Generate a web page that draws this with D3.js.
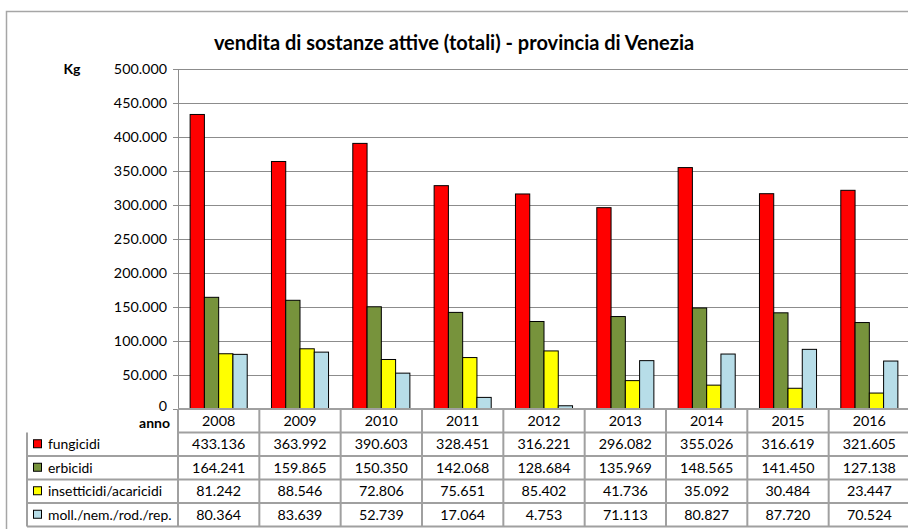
<!DOCTYPE html>
<html>
<head>
<meta charset="utf-8">
<script src="https://cdn.jsdelivr.net/npm/d3@7"></script>
<style>
  body { margin: 0; background: #fff; }
  svg { display: block; font-family: Lato, "Open Sans", sans-serif; }
</style>
</head>
<body>
<div id="chart"></div>
<script>
// dati
const years = ["2008", "2009", "2010", "2011", "2012", "2013", "2014", "2015", "2016"];
const seriesNames = ["fungicidi", "erbicidi", "insetticidi/acaricidi", "moll./nem./rod./rep."];
const fungicidi = [433136, 363992, 390603, 328451, 316221, 296082, 355026, 316619, 321605];
const erbicidi = [164241, 159865, 150350, 142068, 128684, 135969, 148565, 141450, 127138];
const insetticidi = [81242, 88546, 72806, 75651, 85402, 41736, 35092, 30484, 23447];
const molluschicidi = [80364, 83639, 52739, 17064, 4753, 71113, 80827, 87720, 70524];
const yTicks = [0, 50000, 100000, 150000, 200000, 250000, 300000, 350000, 400000, 450000, 500000];
const colors = ["#ff0000", "#77933c", "#ffff00", "#b7dde8"];

const seriesValues = [fungicidi, erbicidi, insetticidi, molluschicidi];

const W = 908, H = 529;
const margin = {top: 69, left: 178};
const plotRight = 910;
const plotBottom = 409;
const rowH = 23.5;
const tableLeft = 27;

const fmt = v => v === 0 ? "0" : d3.format(",")(v).replace(/,/g, ".");

const svg = d3.select("#chart")
    .append("svg")
    .attr("width", W)
    .attr("height", H);

// cornice esterna
svg.append("rect")
    .attr("x", 6.5).attr("y", 11.5)
    .attr("width", W).attr("height", H)
    .attr("fill", "none")
    .attr("stroke", "#a6a6a6")
    .attr("stroke-width", 1.5);

// titolo
svg.append("text")
    .attr("x", 454)
    .attr("y", 50)
    .attr("text-anchor", "middle")
    .style("font-size", "20px")
    .style("font-weight", "bold")
    .text("vendita di sostanze attive (totali) - provincia di Venezia");

svg.append("text")
    .attr("x", 72)
    .attr("y", 74)
    .attr("text-anchor", "middle")
    .style("font-size", "14px")
    .style("font-weight", "bold")
    .text("Kg");

// scale
const x = d3.scaleBand()
    .domain(years)
    .range([margin.left, plotRight]);

const y = d3.scaleLinear()
    .domain([0, 500000])
    .range([plotBottom, margin.top]);

const xs = d3.scaleBand()
    .domain(d3.range(seriesNames.length))
    .range([0, x.bandwidth()])
    .paddingOuter(0.85);

// griglia
svg.append("g")
    .selectAll("line")
    .data(yTicks)
    .enter()
    .append("line")
    .attr("x1", margin.left)
    .attr("x2", plotRight)
    .attr("y1", d => Math.round(y(d)) + 0.5)
    .attr("y2", d => Math.round(y(d)) + 0.5)
    .attr("stroke", "#8c8c8c")
    .attr("stroke-width", 1);

// asse y
const yAxis = svg.append("g")
    .attr("transform", `translate(${margin.left},0)`)
    .call(d3.axisLeft(y).tickValues(yTicks).tickFormat(fmt).tickSize(5).tickPadding(6));
yAxis.select(".domain").attr("stroke", "#8c8c8c");
yAxis.selectAll(".tick line").attr("stroke", "#8c8c8c");
yAxis.selectAll("text")
    .style("font-size", "14.3px")
    .style("font-family", "Lato, sans-serif")
    .attr("fill", "#000");
// lo "0" sta un po' più in alto, sopra "anno"
yAxis.selectAll(".tick text")
    .filter(d => d === 0)
    .attr("dy", "0.1em");

// barre
seriesValues.forEach((vals, si) => {
    svg.append("g")
        .selectAll("rect")
        .data(vals)
        .enter()
        .append("rect")
        .attr("x", (d, i) => x(years[i]) + xs(si))
        .attr("y", d => y(d))
        .attr("width", xs.bandwidth())
        .attr("height", d => plotBottom - y(d))
        .attr("fill", colors[si])
        .attr("stroke", "#000")
        .attr("stroke-width", 1);
});

// tabella dati
const table = svg.append("g");
const lineColor = "#a0a0a0";

// righe orizzontali
const hLines = [plotBottom, plotBottom + rowH];
seriesNames.forEach((s, i) => hLines.push(plotBottom + rowH * (i + 2)));
table.selectAll(".hline")
    .data(hLines)
    .enter()
    .append("line")
    .attr("x1", (d, i) => i < 2 ? margin.left : tableLeft)
    .attr("x2", plotRight)
    .attr("y1", d => d)
    .attr("y2", d => d)
    .attr("stroke", lineColor)
    .attr("stroke-width", 2);

// linee verticali
table.selectAll(".vline")
    .data(years)
    .enter()
    .append("line")
    .attr("x1", d => x(d))
    .attr("x2", d => x(d))
    .attr("y1", plotBottom)
    .attr("y2", plotBottom + rowH * 5)
    .attr("stroke", lineColor)
    .attr("stroke-width", 2);

table.append("line")
    .attr("x1", tableLeft).attr("x2", tableLeft)
    .attr("y1", plotBottom + rowH)
    .attr("y2", plotBottom + rowH * 5)
    .attr("stroke", lineColor)
    .attr("stroke-width", 2);

// intestazione anni
table.selectAll(".year")
    .data(years)
    .enter()
    .append("text")
    .attr("x", d => x(d) + x.bandwidth() / 2)
    .attr("y", plotBottom + rowH / 2)
    .attr("dy", "0.38em")
    .attr("text-anchor", "middle")
    .style("font-size", "14.3px")
    .text(d => d);

svg.append("text")
    .attr("x", 170)
    .attr("y", plotBottom + rowH / 2 + 2)
    .attr("dy", "0.38em")
    .attr("text-anchor", "end")
    .style("font-size", "14px")
    .style("font-weight", "bold")
    .text("anno");

// righe delle serie
seriesNames.forEach((name, si) => {
    const cy = plotBottom + rowH * (si + 1) + rowH / 2;
    table.append("rect")
        .attr("x", 33.5)
        .attr("y", cy - 4.5)
        .attr("width", 8)
        .attr("height", 8)
        .attr("fill", colors[si])
        .attr("stroke", "#000")
        .attr("stroke-width", 1);
    table.append("text")
        .attr("x", 48)
        .attr("y", cy)
        .attr("dy", "0.36em")
        .style("font-size", "13.9px")
        .text(name);
    table.selectAll(".v" + si)
        .data(seriesValues[si])
        .enter()
        .append("text")
        .attr("x", (d, i) => x(years[i]) + x.bandwidth() / 2)
        .attr("y", cy)
        .attr("dy", "0.36em")
        .attr("text-anchor", "middle")
        .style("font-size", "14.3px")
        .text(d => fmt(d));
});
</script>
</body>
</html>
